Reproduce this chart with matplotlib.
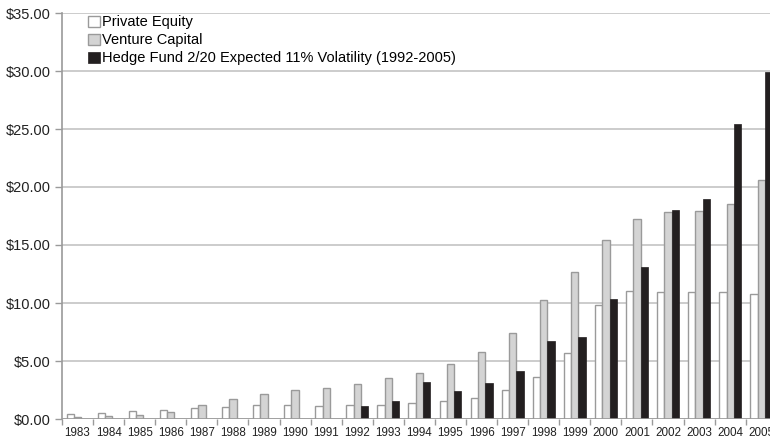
import numpy as np
import matplotlib.pyplot as plt

# Data
years = list(range(1983, 2006))
private_equity = [0.40, 0.55, 0.66, 0.80, 0.92, 1.06, 1.18, 1.18, 1.09, 1.18, 1.18, 1.35,
                  1.58, 1.84, 2.50, 3.59, 5.69, 9.80, 11.01, 10.95, 10.95, 10.92, 10.78]
venture_capital = [0.15, 0.26, 0.37, 0.60, 1.23, 1.72, 2.18, 2.50, 2.67, 3.04, 3.53, 3.94,
                   4.71, 5.75, 7.41, 10.26, 12.64, 15.40, 17.24, 17.87, 17.96, 18.53, 20.60]
hf_years = list(range(1992, 2006))
hedge_fund = [1.12, 1.55, 3.22, 2.44, 3.10, 4.16, 6.72, 7.07, 10.34, 13.13, 18.02, 18.99,
              25.43, 29.94]

plt.rcParams['font.family'] = ['Liberation Sans', 'DejaVu Sans']

fig = plt.figure(figsize=(7.7, 4.42), dpi=100)
# plot area runs a bit past the right edge, like the original crop
ax = fig.add_axes([62/770, 1-419/442, 714.8/770, 406/442])

x = np.arange(len(years))
w = 0.235
edge = '#9a9a9a'

ax.bar(x - w, private_equity, w, color='white', edgecolor=edge, lw=1.0,
       label='Private Equity', zorder=3)
ax.bar(x, venture_capital, w, color='#d4d4d4', edgecolor=edge, lw=1.0,
       label='Venture Capital', zorder=3)
xh = np.array([years.index(y) for y in hf_years])
ax.bar(xh + w, hedge_fund, w, color='#231f20', edgecolor='#231f20', lw=0.5,
       label='Hedge Fund 2/20 Expected 11% Volatility (1992-2005)', zorder=3)

ax.set_xlim(-0.5, len(years) - 0.5)
ax.set_ylim(0, 35)
ax.set_yticks(np.arange(0, 36, 5))
ax.set_yticklabels(['$%.2f' % v for v in np.arange(0, 36, 5)], fontsize=10.5, color='#222222')
ax.yaxis.grid(True, color='#c4c4c4', lw=1.2, zorder=0)

ax.set_xticks(x)
ax.set_xticklabels([str(y) for y in years], fontsize=8.4, color='#222222')
ax.tick_params(axis='x', length=0, pad=6)
ax.set_xticks(np.arange(len(years) + 1) - 0.5, minor=True)
ax.tick_params(axis='x', which='minor', length=4, color='#9a9a9a', width=1)
ax.tick_params(axis='y', length=5, color='#9a9a9a', width=1, pad=3)

for s in ['top', 'right', 'bottom']:
    ax.spines[s].set_visible(False)
ax.spines['left'].set_color('#9a9a9a')
ax.spines['left'].set_linewidth(1.2)
ax.axhline(0, color='#9a9a9a', lw=1.2, zorder=4)

ax.legend(loc='upper left', bbox_to_anchor=(0.024, 1.016), frameon=False, fontsize=10.5,
          handlelength=0.8, handleheight=0.8, handletextpad=0.2, labelspacing=0.28,
          borderaxespad=0.2)

fig.savefig('out.png', dpi=100)
